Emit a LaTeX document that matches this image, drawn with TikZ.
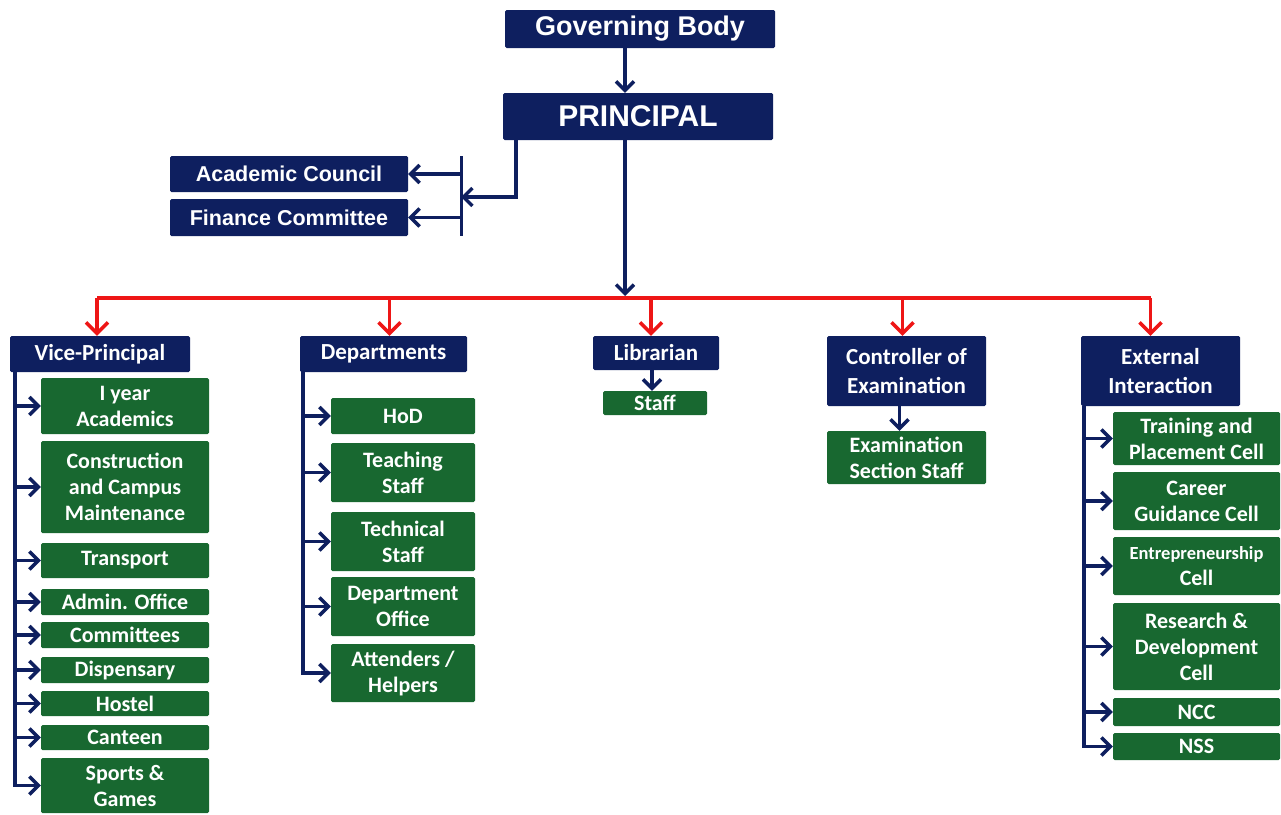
\documentclass[tikz,border=0pt]{standalone}
\usepackage{fontspec}
\setmainfont{Carlito}
\newfontfamily\arialfont{Liberation Sans}
\usetikzlibrary{arrows.meta}
\definecolor{navy}{RGB}{14,31,95}
\definecolor{leafgreen}{RGB}{24,104,48}
\definecolor{busred}{RGB}{238,22,22}

\begin{document}
\begin{tikzpicture}
[x=1pt,y=-1pt,%
  every node/.style={inner sep=0pt,align=center,text=white,rounded corners=1.5pt},%
  topbox/.style={fill=navy,font=\arialfont\bfseries\fontsize{21.5}{26}\selectfont},%
  headbox/.style={fill=navy,font=\bfseries\fontsize{23}{29}\selectfont},%
  leafbox/.style={fill=leafgreen,font=\bfseries\fontsize{22}{26}\selectfont},%
  vpleaf/.style={leafbox,minimum width=168pt},%
  deptleaf/.style={leafbox,minimum width=144pt},%
  extleaf/.style={leafbox,minimum width=167pt},%
  link/.style={navy,line width=3.5pt,-{Straight Barb[length=9pt,width=18pt]}},%
  buslink/.style={busred,line width=3.5pt,-{Straight Barb[length=11pt,width=22pt]}}]
\useasboundingbox (0,0) rectangle (1281,814);
%%
\node[topbox,minimum width=270pt,minimum height=38pt,
  font=\arialfont\bfseries\fontsize{27}{32}\selectfont] (gb) at (640,29) {Governing Body};
\node[topbox,minimum width=270pt,minimum height=47pt,
  font=\arialfont\bfseries\fontsize{30}{36}\selectfont] (principal) at (638,116.5) {PRINCIPAL};
\node[topbox,minimum width=238pt,minimum height=36pt] (acad) at (289,174) {Academic Council};
\node[topbox,minimum width=238pt,minimum height=37pt] (fin) at (289,217.5) {Finance Committee};
%%
\node[headbox,minimum width=180pt,minimum height=36pt] (vp) at (100,354) {Vice-Principal};
\node[headbox,minimum width=167pt,minimum height=36pt] (dept) at (383.5,354) {Departments};
\node[headbox,minimum width=126pt,minimum height=34pt] (lib) at (656,353) {Librarian};
\node[headbox,minimum width=159pt,minimum height=70pt] (coe) at (906.5,371) {Controller of\\Examination};
\node[headbox,minimum width=159pt,minimum height=70pt] (ext) at (1160.5,371) {External\\Interaction};
%%
\node[vpleaf,minimum height=56pt] (vpa) at (125,406) {I year\\Academics};
\node[vpleaf,minimum height=92pt] (vpb) at (125,487) {Construction\\and Campus\\Maintenance};
\node[vpleaf,minimum height=35pt] (vpc) at (125,560.5) {Transport};
\node[vpleaf,minimum height=26pt] (vpd) at (125,602) {Admin. Office};
\node[vpleaf,minimum height=26pt] (vpe) at (125,635) {Committees};
\node[vpleaf,minimum height=26pt] (vpf) at (125,670) {Dispensary};
\node[vpleaf,minimum height=25pt] (vpg) at (125,703.5) {Hostel};
\node[vpleaf,minimum height=25pt] (vph) at (125,737.5) {Canteen};
\node[vpleaf,minimum height=55pt] (vpi) at (125,785.5) {Sports \&\\Games};
%%
\node[deptleaf,minimum height=36pt] (hod) at (403,416) {HoD};
\node[deptleaf,minimum height=59pt] (teach) at (403,472.5) {Teaching\\Staff};
\node[deptleaf,minimum height=59pt] (tech) at (403,541.5) {Technical\\Staff};
\node[deptleaf,minimum height=59pt] (doff) at (403,606.5) {Department\\Office};
\node[deptleaf,minimum height=58pt] (attn) at (403,673) {Attenders /\\Helpers};
%%
\node[leafbox,minimum width=104pt,minimum height=24pt] (libstaff) at (655,403) {Staff};
\node[leafbox,minimum width=159pt,minimum height=53pt] (exam) at (906.5,457.5) {Examination\\Section Staff};
%%
\node[extleaf,minimum height=53pt] (tpc) at (1196.5,438.5) {Training and\\Placement Cell};
\node[extleaf,minimum height=58pt] (cgc) at (1196.5,501) {Career\\Guidance Cell};
\node[extleaf,minimum height=58pt] (ent) at (1196.5,566)
  {{\fontsize{18.5}{22}\selectfont Entrepreneurship}\\Cell};
\node[extleaf,minimum height=87pt] (rdc) at (1196.5,646.5) {Research \&\\Development\\Cell};
\node[extleaf,minimum height=28pt] (ncc) at (1196.5,712) {NCC};
\node[extleaf,minimum height=27pt] (nss) at (1196.5,746.5) {NSS};
%%
\coordinate (hub) at (625,298);
\coordinate (bartop) at (461,156);
\coordinate (barbot) at (461,236);
\coordinate (barmid) at (461,197);
\coordinate (vpspine) at ([xshift=5pt]vp.south west);
\coordinate (deptspine) at ([xshift=3pt]dept.south west);
\coordinate (extspine) at ([xshift=3pt]ext.south west);
%%
\draw[link] (gb.south -| hub) -- (principal.north -| hub);
\draw[link] (principal.south -| hub) -- ([yshift=2pt]hub);
\draw[link] ([xshift=-122pt]principal.south) |- (barmid);
\draw[navy,line width=3pt] (bartop) -- (barbot);
\draw[link] (barmid |- acad.east) -- (acad.east);
\draw[link] (barmid |- fin.east) -- (fin.east);
%%
\draw[busred,line width=3.5pt] ([xshift=-3pt]vp.north |- hub) -- ([xshift=-10pt]ext.north |- hub);
\foreach \head/\dx in {vp/-3, dept/6, lib/-5, coe/-4, ext/-10}
{
  \draw[buslink] ([xshift=\dx pt]\head.north |- hub) -- ([xshift=\dx pt]\head.north);
}
%%
\foreach \k in {a,...,h}
  \draw[link] (vpspine |- vp\k.west) -- (vp\k.west);
\draw[link] (vpspine) |- (vpi.west);
\foreach \leaf in {hod, teach, tech, doff}
  \draw[link] (deptspine |- \leaf.west) -- (\leaf.west);
\draw[link] (deptspine) |- (attn.west);
\foreach \leaf in {tpc, cgc, ent, rdc, ncc}
  \draw[link] (extspine |- \leaf.west) -- (\leaf.west);
\draw[link] (extspine) |- (nss.west);
%%
\draw[link] ([xshift=-4pt]lib.south) -- ([xshift=-4pt]lib.south |- libstaff.north);
\draw[link] ([xshift=-7pt]coe.south) -- ([xshift=-7pt]coe.south |- exam.north);
\end{tikzpicture}
\end{document}
